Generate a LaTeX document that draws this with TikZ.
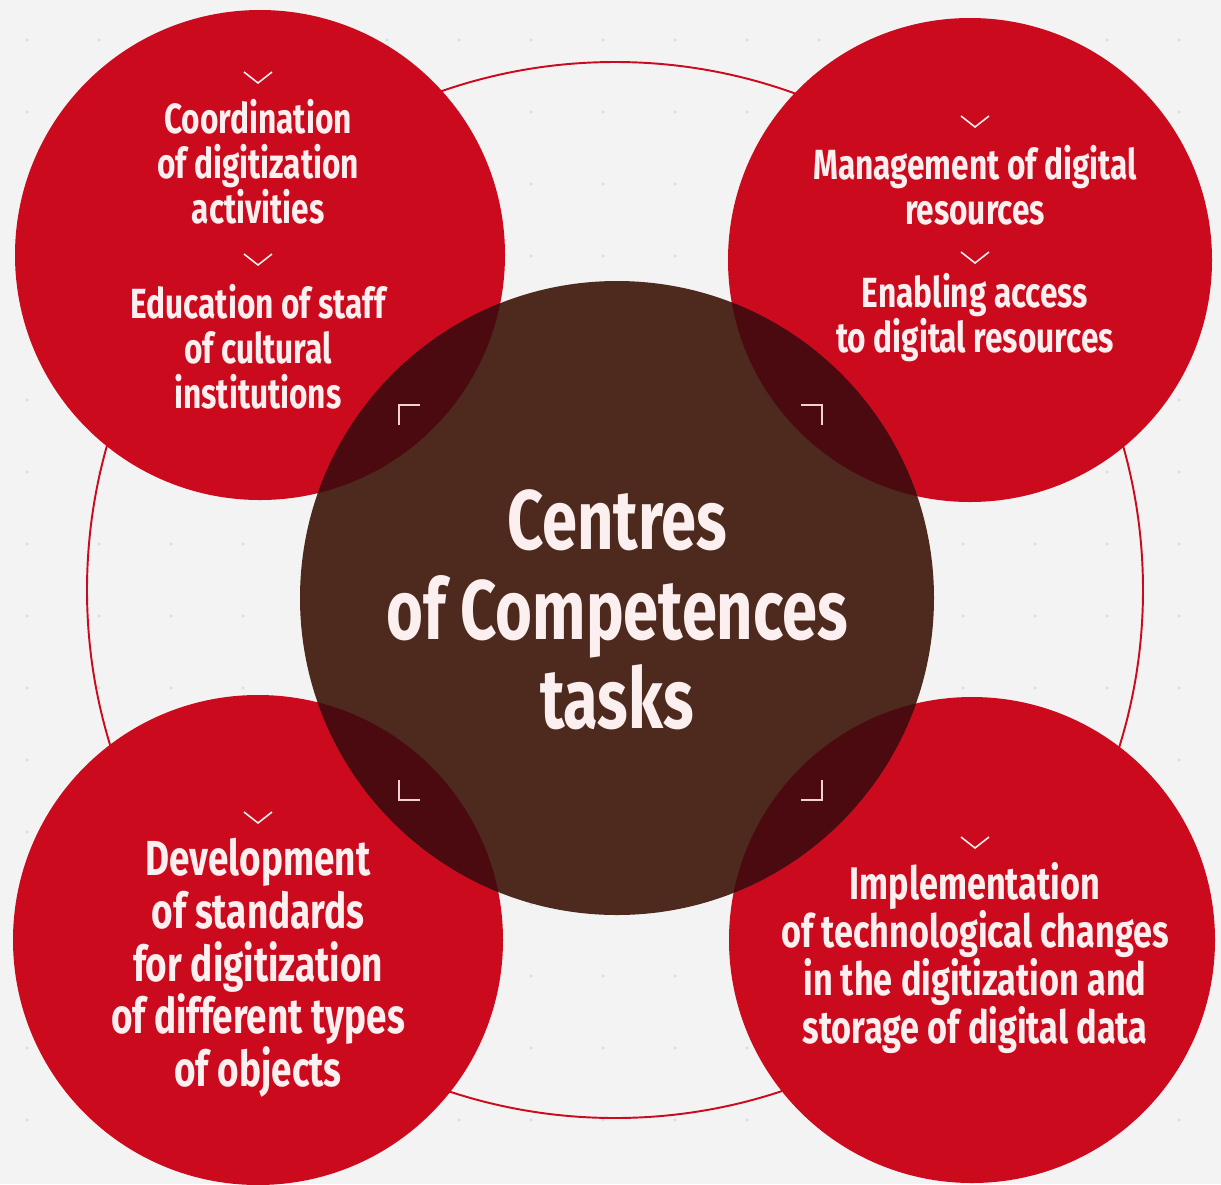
\documentclass[tikz,border=0pt]{standalone}
\usepackage{fontspec}
\newfontfamily\labelfont[FakeStretch=0.75]{Fira Sans}
\definecolor{bg}{HTML}{F4F3F3}
\definecolor{dotgray}{HTML}{DEDADA}
\definecolor{taskred}{HTML}{CC0A1E}
\definecolor{centrebrown}{HTML}{4E2A1E}
\definecolor{overlap}{HTML}{4A0A10}
\definecolor{txt}{HTML}{FBEFEF}
\definecolor{cornerpink}{HTML}{F0D2D2}

\begin{document}
\begin{tikzpicture}[x=0.02cm,y=-0.02cm,
  task/.style={text=txt,align=center,inner sep=0pt,
    font=\labelfont\bfseries\fontsize{24}{25.6}\selectfont},
  bigtask/.style={task,font=\labelfont\bfseries\fontsize{28}{30}\selectfont},
  midtask/.style={task,font=\labelfont\bfseries\fontsize{26}{27.2}\selectfont}]
  \fill[bg] (0,0) rectangle (1221,1184);
  \useasboundingbox (0,0) rectangle (1221,1184);
  \foreach \x in {27,99,...,1221}
    \foreach \y in {40,112,...,1184}
      \fill[dotgray] (\x,\y) circle (1.6);
  % outer ring
  \draw[taskred,line width=1.1pt] (615,590) circle (528);
  % task circles
  \fill[taskred] (260,255) circle (245);
  \fill[taskred] (970,260) circle (242);
  \fill[taskred] (258,940) circle (245);
  \fill[taskred] (972,940) circle (243);
  \fill[centrebrown] (617,598) circle (317);
  \begin{scope}
    \clip (617,598) circle (317);
    \fill[overlap] (260,255) circle (245);
    \fill[overlap] (970,260) circle (242);
    \fill[overlap] (258,940) circle (245);
    \fill[overlap] (972,940) circle (243);
  \end{scope}
  % chevrons
  \foreach \x/\y in {258/78,258/260,975/122,975/258,258/818,975/843}
    \draw[txt,line width=0.9pt] (\x-14,\y-6) -- (\x,\y+5) -- (\x+14,\y-6);
  % corner marks
  \draw[cornerpink,line width=1.6pt] (399,425) -- (399,405) -- (420,405);
  \draw[cornerpink,line width=1.6pt] (801,405) -- (822,405) -- (822,425);
  \draw[cornerpink,line width=1.6pt] (399,780) -- (399,800) -- (420,800);
  \draw[cornerpink,line width=1.6pt] (801,800) -- (822,800) -- (822,780);
  % texts
  \node[task] (coord) at (258,162) {Coordination\\of digitization\\activities};
  \node[task] (educ) at (258,347) {Education of staff\\of cultural\\institutions};
  \node[task] (manage) at (975,185) {Management of digital\\resources};
  \node[task] (access) at (975,318) {Enabling access\\to digital resources};
  \node[bigtask] (standards) at (258,968) {Development\\of standards\\for digitization\\of different types\\of objects};
  \node[midtask] (tech) at (975,958) {Implementation\\of technological changes\\in the digitization and\\storage of digital data};
  \node[text=txt,align=center,
    font=\labelfont\bfseries\fontsize{48}{51}\selectfont] (centre) at (617,610)
    {Centres\\of Competences\\tasks};
\end{tikzpicture}
\end{document}
